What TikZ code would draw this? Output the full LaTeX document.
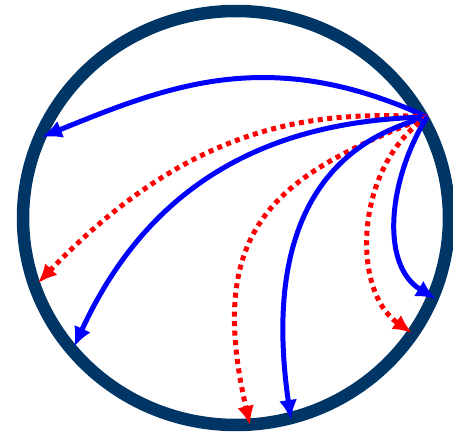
\documentclass[tikz,border=0pt]{standalone}
\usetikzlibrary{arrows.meta}
\definecolor{navy}{RGB}{0,54,102}
\tikzstyle{rim}     = [draw=navy, line width=12.5pt]
\tikzstyle{solidarr}  = [blue, line width=5pt, -{Latex[length=20pt,width=18pt]}]
\tikzstyle{dotarr}  = [red, line width=5pt, dash pattern=on 5pt off 4.5pt, -{Latex[length=19pt,width=17pt]}]

\begin{document}
\begin{tikzpicture}[x=1pt, y=-1pt]
        \useasboundingbox (0,0) rectangle (453,436);

        \draw[rim] (236,218) ellipse [x radius=213pt, y radius=207pt];

        \coordinate (src) at (427,117);

        \coordinate (t1) at (42,137);
        \coordinate (t2) at (38,283);
        \coordinate (t3) at (74,347);
        \coordinate (t4) at (250,425);
        \coordinate (t5) at (291,420);
        \coordinate (t6) at (412,333);
        \coordinate (t7) at (436,299);

        \draw[solidarr] (src) .. controls (270,45) and (170,85) .. (t1);
        \draw[dotarr] (src) .. controls (310,110) and (190,125) .. (t2);
        \draw[solidarr] (src) .. controls (300,120) and (160,160) .. (t3);
        \draw[dotarr] (src) .. controls (278,175) and (204,225) .. (t4);
        \draw[solidarr] (src) .. controls (380,130) and (255,170) .. (t5);
        \draw[dotarr] (src) .. controls (355,165) and (350,290) .. (t6);
        \draw[solidarr] (src) .. controls (388,180) and (380,265) .. (t7);

    \end{tikzpicture}
\end{document}
